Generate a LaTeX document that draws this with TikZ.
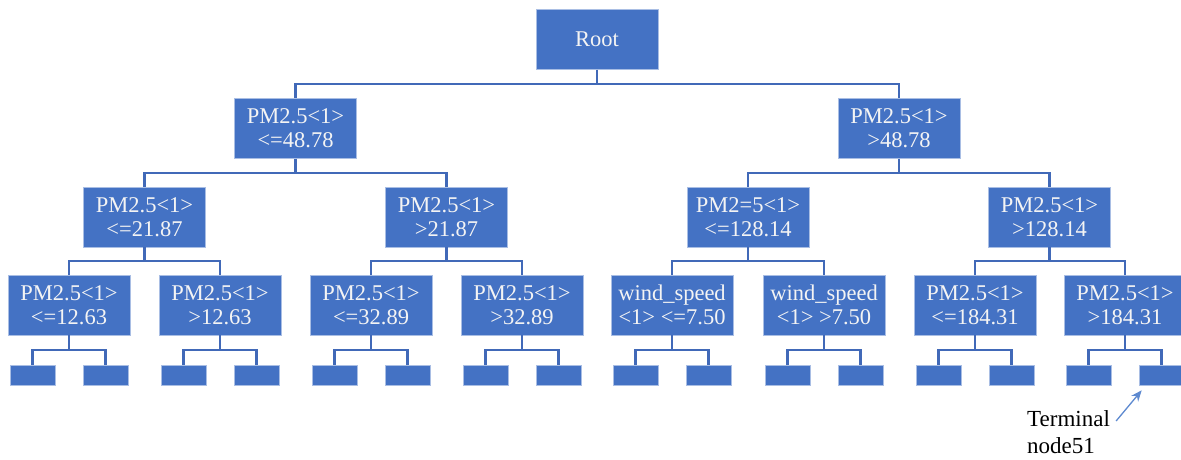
\documentclass[tikz,border=0pt]{standalone}
\usepackage{fontspec}
\setmainfont{Liberation Serif}
\usetikzlibrary{arrows.meta,positioning,calc}
\definecolor{boxfill}{HTML}{4472C4}
\definecolor{boxedge}{HTML}{A9BEE4}
\definecolor{linkcolor}{HTML}{4169B8}
\definecolor{pointercolor}{HTML}{5E8AD0}
\definecolor{labeltext}{HTML}{F4F4F4}
\tikzset{
  splitnode/.style={
    draw=boxedge,
    line width=0.8pt,
    fill=boxfill,
    text=labeltext,
    align=center,
    minimum width=122pt,
    minimum height=60pt,
    inner sep=2pt,
    font=\fontsize{22.5}{24}\selectfont
  },
  leafnode/.style={
    draw=boxedge,
    line width=0.6pt,
    fill=boxfill,
    minimum width=45pt,
    minimum height=20pt,
    inner sep=0pt
  },
  termlabel/.style={
    align=left,
    inner sep=0pt,
    text=black,
    font=\fontsize{23}{27}\selectfont
  },
  link/.style={draw=linkcolor,line width=2.4pt},
  branch/.style={to path={(\tikztostart) |- ($(\tikztostart)!.5!(\tikztotarget)$) -| (\tikztotarget)}},
  pointer/.style={-{Stealth[length=11pt,width=9pt]},line width=1.3pt,draw=pointercolor}
}

\begin{document}
\begin{tikzpicture}[x=1pt,y=-1pt]
  \useasboundingbox (0,0) rectangle (1181,459);
  % split nodes
  \node[splitnode] (root) at (597,39.5) {Root};
  \node[splitnode] (lo) at (295.5,128.5) {PM2.5<1>\\<=48.78};
  \node[splitnode] (hi) at (899,128.5) {PM2.5<1>\\>48.78};
  \node[splitnode] (lolo) at (144.5,217) {PM2.5<1>\\<=21.87};
  \node[splitnode] (lohi) at (446.5,217) {PM2.5<1>\\>21.87};
  \node[splitnode] (hilo) at (748,217) {PM2=5<1>\\<=128.14};
  \node[splitnode] (hihi) at (1049.5,217) {PM2.5<1>\\>128.14};
  \node[splitnode] (n1) at (69,305) {PM2.5<1>\\<=12.63};
  \node[splitnode] (n2) at (220,305) {PM2.5<1>\\>12.63};
  \node[splitnode] (n3) at (371,305) {PM2.5<1>\\<=32.89};
  \node[splitnode] (n4) at (522,305) {PM2.5<1>\\>32.89};
  \node[splitnode] (n5) at (672,305) {wind\_speed\\<1> <=7.50};
  \node[splitnode] (n6) at (824,305) {wind\_speed\\<1> >7.50};
  \node[splitnode] (n7) at (975,305) {PM2.5<1>\\<=184.31};
  \node[splitnode] (n8) at (1125,305) {PM2.5<1>\\>184.31};
  % terminal nodes
  \node[leafnode] (t1) at (32.5,375) {};
  \node[leafnode] (t2) at (105.5,375) {};
  \node[leafnode] (t3) at (183.5,375) {};
  \node[leafnode] (t4) at (256.5,375) {};
  \node[leafnode] (t5) at (334.5,375) {};
  \node[leafnode] (t6) at (407.5,375) {};
  \node[leafnode] (t7) at (485.5,375) {};
  \node[leafnode] (t8) at (558.5,375) {};
  \node[leafnode] (t9) at (635.5,375) {};
  \node[leafnode] (t10) at (708.5,375) {};
  \node[leafnode] (t11) at (787.5,375) {};
  \node[leafnode] (t12) at (860.5,375) {};
  \node[leafnode] (t13) at (938.5,375) {};
  \node[leafnode] (t14) at (1011.5,375) {};
  \node[leafnode] (t15) at (1088.5,375) {};
  \node[leafnode] (t51) at (1161.5,375) {};
  \node[termlabel, anchor=north west] (term) at (1027,410) {Terminal\\node51};
  % branches
  \draw[link] (root.south) to[branch] (lo.north);
  \draw[link] (root.south) to[branch] (hi.north);
  \draw[link] (lo.south) to[branch] (lolo.north);
  \draw[link] (lo.south) to[branch] (lohi.north);
  \draw[link] (hi.south) to[branch] (hilo.north);
  \draw[link] (hi.south) to[branch] (hihi.north);
  \draw[link] (lolo.south) to[branch] (n1.north);
  \draw[link] (lolo.south) to[branch] (n2.north);
  \draw[link] (lohi.south) to[branch] (n3.north);
  \draw[link] (lohi.south) to[branch] (n4.north);
  \draw[link] (hilo.south) to[branch] (n5.north);
  \draw[link] (hilo.south) to[branch] (n6.north);
  \draw[link] (hihi.south) to[branch] (n7.north);
  \draw[link] (hihi.south) to[branch] (n8.north);
  \draw[link] (n1.south) to[branch] (t1.north);
  \draw[link] (n1.south) to[branch] (t2.north);
  \draw[link] (n2.south) to[branch] (t3.north);
  \draw[link] (n2.south) to[branch] (t4.north);
  \draw[link] (n3.south) to[branch] (t5.north);
  \draw[link] (n3.south) to[branch] (t6.north);
  \draw[link] (n4.south) to[branch] (t7.north);
  \draw[link] (n4.south) to[branch] (t8.north);
  \draw[link] (n5.south) to[branch] (t9.north);
  \draw[link] (n5.south) to[branch] (t10.north);
  \draw[link] (n6.south) to[branch] (t11.north);
  \draw[link] (n6.south) to[branch] (t12.north);
  \draw[link] (n7.south) to[branch] (t13.north);
  \draw[link] (n7.south) to[branch] (t14.north);
  \draw[link] (n8.south) to[branch] (t15.north);
  \draw[link] (n8.south) to[branch] (t51.north);
  \draw[pointer] ([xshift=6pt,yshift=-11pt]term.north east) -- ([xshift=3pt,yshift=-5pt]t51.south west);
\end{tikzpicture}
\end{document}
